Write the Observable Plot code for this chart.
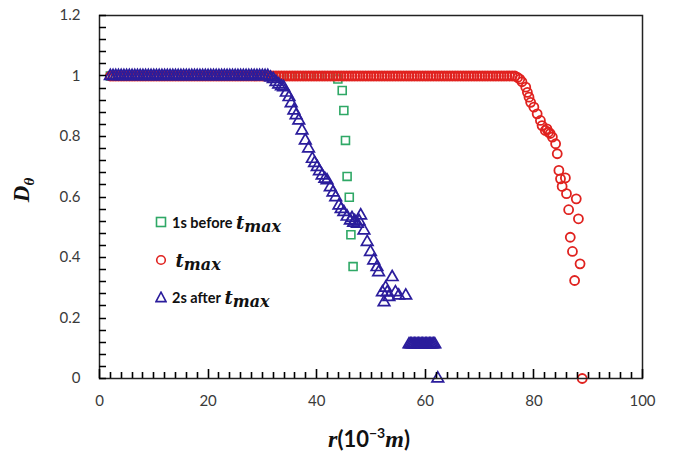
<!DOCTYPE html>
<html>
<head>
<meta charset="utf-8">
<script src="https://cdn.jsdelivr.net/npm/d3@7"></script>
<script src="https://cdn.jsdelivr.net/npm/@observablehq/plot@0.6"></script>
<style>
  body { margin: 0; background: #fff; }
  #wrap { position: relative; width: 685px; height: 458px; }
  #legend { position: absolute; left: 0; top: 0; font-family: Lato, "Open Sans", sans-serif; font-weight: bold; font-size: 14.5px; color: #111; }
  .row { position: absolute; left: 155px; height: 20px; white-space: nowrap; display: flex; align-items: center; }
  .row svg { margin-right: 5px; }
  .t { font-family: "DejaVu Serif", serif; font-style: italic; font-weight: bold; font-size: 18px; }
  .sub { font-family: "DejaVu Serif", serif; font-style: italic; font-weight: bold; font-size: 16px; position: relative; top: 4px; }
</style>
</head>
<body>
<div id="wrap"></div>
<script>
// ---- data (r in 10^-3 m, D_theta) ----
const plateauR = [2,2.5,3,3.5,4,4.5,5,5.5,6,6.5,7,7.5,8,8.5,9,9.5,10,10.5,11,11.5,12,12.5,13,13.5,14,14.5,15,15.5,16,16.5,17,17.5,18,18.5,19,19.5,20,20.5,21,21.5,22,22.5,23,23.5,24,24.5,25,25.5,26,26.5,27,27.5,28,28.5,29,29.5,30,30.5,31,31.5,32,32.5,33,33.5,34,34.5,35,35.5,36,36.5,37,37.5,38,38.5,39,39.5,40,40.5,41,41.5,42,42.5,43,43.5,44,44.5,45,45.5,46,46.5,47,47.5,48,48.5,49,49.5,50,50.5,51,51.5,52,52.5,53,53.5,54,54.5,55,55.5,56,56.5,57,57.5,58,58.5,59,59.5,60,60.5,61,61.5,62,62.5,63,63.5,64,64.5,65,65.5,66,66.5,67,67.5,68,68.5,69,69.5,70,70.5,71,71.5,72,72.5,73,73.5,74,74.5,75,75.5,76,76.5];
const plateauD = 1;

// 1s before t_max (green squares)
const greenPlateauEnd = 43.5;
const greenR = [43.9, 44.7, 45.0, 45.3, 45.6, 46.0, 46.3, 46.7];
const greenD = [0.99, 0.952, 0.886, 0.787, 0.668, 0.599, 0.475, 0.370];

// t_max (red circles)
const redPlateauEnd = 76.5;
const redR = [77.0, 77.4, 77.8, 78.5, 78.8, 79.1, 79.4, 80.0, 80.6, 81.2, 81.5, 82.1, 82.4, 82.7, 83.0, 83.4, 84.0, 84.3, 84.6, 84.9, 85.8, 85.2, 86.0, 87.8, 86.4, 88.2, 86.7, 87.1, 88.5, 87.5, 88.9];
const redD = [0.995, 0.99, 0.981, 0.963, 0.946, 0.930, 0.913, 0.897, 0.875, 0.853, 0.836, 0.820, 0.825, 0.814, 0.810, 0.798, 0.776, 0.743, 0.688, 0.660, 0.663, 0.635, 0.611, 0.594, 0.558, 0.528, 0.467, 0.420, 0.379, 0.324, 0.0];

// 2s after t_max (blue triangles)
const bluePlateauEnd = 31;
const blueR = [31.5, 32, 32.5, 33, 33.5, 33.9, 34.4, 34.9, 35.3, 35.8, 36.2, 36.7, 37.3, 37.9, 38.5, 39.2, 39.6, 40.1, 40.5, 41.0, 41.5, 41.9, 42.5, 43.0, 43.5, 44.1, 44.5, 45.0, 45.6, 46.2, 46.5, 46.8, 47.0, 47.5, 47.8, 48.1, 48.7, 49.3, 49.9, 50.5, 51.1, 51.4,
  52.1, 52.4, 52.7, 53.0, 53.3, 53.9, 54.5, 55.1, 56.4,
  57, 57.25, 57.5, 57.75, 58, 58.25, 58.5, 58.75, 59, 59.25, 59.5, 59.75, 60, 60.25, 60.5, 60.75, 61, 61.25, 61.5, 61.75,
  62.3];
const blueD = [0.995, 0.99, 0.98, 0.972, 0.966, 0.963, 0.945, 0.930, 0.910, 0.886, 0.870, 0.853, 0.820, 0.787, 0.760, 0.726, 0.712, 0.699, 0.685, 0.671, 0.660, 0.655, 0.632, 0.615, 0.599, 0.572, 0.560, 0.550, 0.535, 0.522, 0.530, 0.515, 0.520, 0.511, 0.520, 0.539, 0.489, 0.451, 0.418, 0.390, 0.368, 0.351,
  0.285, 0.252, 0.300, 0.285, 0.269, 0.335, 0.285, 0.274, 0.274,
  0.113, 0.113, 0.113, 0.113, 0.113, 0.113, 0.113, 0.113, 0.113, 0.113, 0.113, 0.113, 0.113, 0.113, 0.113, 0.113, 0.113, 0.113, 0.113, 0.113,
  0.0];

const xTickLabels = [0, 20, 40, 60, 80, 100];
const yTickLabels = [0, 0.2, 0.4, 0.6, 0.8, 1, 1.2];
const xMinorTicks = d3.range(0, 100.001, 2);
const xMajorTicks = [0, 20, 40, 60, 80, 100];
const yMinorTicks = d3.range(0, 1.2001, 0.04);

const seriesNames = ["1s before t_max", "t_max", "2s after t_max"];
const colors = {green: "#2fa866", red: "#e0221f", blue: "#2b1d9c"};

// build tables
function series(end, r, D) {
  const rows = plateauR.filter(v => v <= end).map(v => ({r: v, D: plateauD}));
  r.forEach((v, i) => rows.push({r: v, D: D[i]}));
  return rows;
}
const green = series(greenPlateauEnd, greenR, greenD);
const red = series(redPlateauEnd, redR, redD);
const blue = series(bluePlateauEnd, blueR, blueD);

const W = 685, H = 458, ML = 99, MR = 43, MT = 15, MB = 80;
const xDomain = [0, 100], yDomain = [0, 1.2];

const chart = Plot.plot({
  width: W,
  height: H,
  marginLeft: ML,
  marginRight: MR,
  marginTop: MT,
  marginBottom: MB,
  x: {domain: xDomain},
  y: {domain: yDomain},
  style: {fontFamily: "Lato, 'Open Sans', sans-serif", fontSize: "15px", color: "#3a3a3a", background: "white"},
  marks: [
    Plot.axisX({ticks: xTickLabels, tickSize: 0, tickPadding: 17, label: null}),
    Plot.axisY({ticks: yTickLabels, tickSize: 0, tickPadding: 19, tickFormat: d => String(d), label: null}),
    Plot.dot(green, {x: "r", y: "D", symbol: "square", r: 4.5, stroke: colors.green, fill: "none", strokeWidth: 1.6}),
    Plot.dot(red, {x: "r", y: "D", symbol: "circle", r: 4.5, stroke: colors.red, fill: "none", strokeWidth: 1.8}),
    Plot.dot(blue, {x: "r", y: "D", symbol: "triangle", r: 4.3, stroke: colors.blue, fill: "none", strokeWidth: 1.7}),
    Plot.frame({stroke: "#222", strokeWidth: 1.5})
  ]
});

const wrap = document.getElementById("wrap");
wrap.appendChild(chart);

const svg = d3.select(chart);

// inward tick marks, positioned with Plot's own scales
const sx = chart.scale("x"), sy = chart.scale("y");
const x0 = sx.apply(xDomain[0]), y0 = sy.apply(yDomain[0]);
let tickPath = "";
xMinorTicks.forEach(t => { const px = Math.round(sx.apply(t)) + 0.5; tickPath += `M${px},${y0}v-6`; });
xMajorTicks.forEach(t => { const px = Math.round(sx.apply(t)) + 0.5; tickPath += `M${px},${y0}v-9`; });
yMinorTicks.forEach(t => { const py = Math.round(sy.apply(t)) + 0.5; tickPath += `M${x0},${py}h7`; });
svg.append("path").attr("d", tickPath).attr("fill", "none").attr("stroke", "#000").attr("stroke-width", 1.6);

// axis titles
const yl = svg.append("text")
  .attr("transform", "translate(29,190) rotate(-90)")
  .attr("text-anchor", "middle")
  .attr("fill", "#111");
yl.append("tspan").text("D").attr("font-family", "'Liberation Serif', serif").attr("font-style", "italic").attr("font-weight", "bold").attr("font-size", 23);
yl.append("tspan").text("θ").attr("dy", 5).attr("font-family", "'Liberation Serif', serif").attr("font-style", "italic").attr("font-weight", "bold").attr("font-size", 15);

const xl = svg.append("text")
  .attr("x", 369).attr("y", 447)
  .attr("text-anchor", "middle")
  .attr("fill", "#111")
  .attr("font-weight", "bold");
xl.append("tspan").text("r").attr("font-family", "'Liberation Serif', serif").attr("font-style", "italic").attr("font-size", 24);
xl.append("tspan").text("(10").attr("font-family", "Lato, sans-serif").attr("font-size", 22);
xl.append("tspan").text("−3").attr("dy", -9).attr("font-family", "Lato, sans-serif").attr("font-size", 14);
xl.append("tspan").text("m").attr("dy", 9).attr("font-family", "'Liberation Serif', serif").attr("font-style", "italic").attr("font-size", 24);
xl.append("tspan").text(")").attr("font-family", "Lato, sans-serif").attr("font-size", 22);

// legend (inside plot area)
const legend = document.createElement("div");
legend.id = "legend";
const symbols = [
  `<svg width="12" height="12"><rect x="1.5" y="1.5" width="9" height="9" fill="none" stroke="${colors.green}" stroke-width="1.6"/></svg>`,
  `<svg width="12" height="12"><circle cx="6" cy="6" r="4.3" fill="none" stroke="${colors.red}" stroke-width="1.6"/></svg>`,
  `<svg width="12" height="12"><path d="M6,1.2L11,10.6H1Z" fill="none" stroke="${colors.blue}" stroke-width="1.6"/></svg>`
];
const prefixes = ["1s before ", "", "2s after "];
const tops = [212, 250, 287];
seriesNames.forEach((name, i) => {
  const row = document.createElement("div");
  row.className = "row";
  row.style.top = tops[i] + "px";
  row.innerHTML = symbols[i] + `<span>${prefixes[i]}</span>&nbsp;<span class="t">t</span><span class="sub">max</span>`;
  legend.appendChild(row);
});
wrap.appendChild(legend);
</script>
</body>
</html>
